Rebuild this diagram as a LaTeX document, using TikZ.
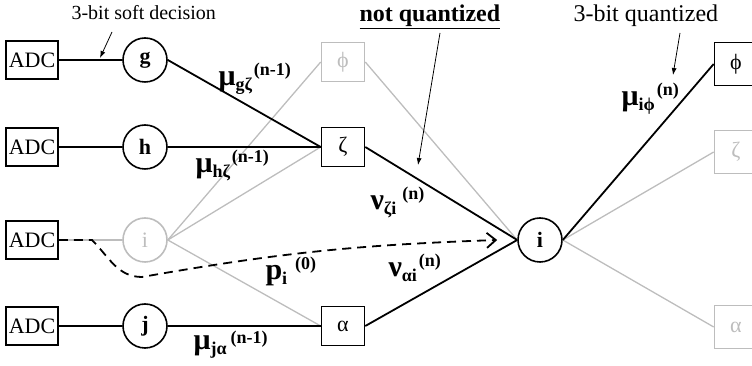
\documentclass[tikz,border=0pt]{standalone}
\usepackage{fontspec}
\setmainfont{Liberation Serif}
\usetikzlibrary{arrows.meta}
\definecolor{lite}{gray}{0.74}
% message label: symbol, subscript, superscript
\newcommand{\msg}[3]{{\fontsize{30}{30}\selectfont\bfseries #1}{\fontsize{18}{18}\selectfont\bfseries\raisebox{-5pt}{#2}\hspace{2pt}\raisebox{10pt}{#3}}}
\begin{document}
\begin{tikzpicture}[x=1pt,y=1pt,
    box/.style={draw,line width=1.6pt,minimum width=43pt,minimum height=39pt,inner sep=0pt,font=\fontsize{22}{22}\selectfont},
    adc/.style={box,minimum width=52pt,minimum height=38pt},
    var/.style={draw,circle,line width=1.6pt,minimum size=44pt,inner sep=0pt,font=\fontsize{22}{22}\selectfont\bfseries},
    faint/.style={draw=lite,text=lite},
    edge/.style={line width=1.8pt},
    fedge/.style={line width=1.3pt,lite},
    note/.style={font=\fontsize{20}{20}\selectfont,anchor=base west},
    pointer/.style={line width=0.8pt,-{Latex[length=7pt,width=5pt]}}]
  \useasboundingbox (0,0) rectangle (752,366);
  \clip (0,0) rectangle (752,366);
  % channel side
  \foreach \y/\n in {306/1,219/2,126/3,40/4}
    \node[adc] (adc\n) at (32,\y) {ADC};
  \node[var] (g) at (145,306) {g};
  \node[var] (h) at (145,219) {h};
  \node[var,faint] (vi) at (145,126) {\mdseries i};
  \node[var] (j) at (145,40) {j};
  % check nodes
  \node[box,faint] (phiL) at (343,304) {ϕ};
  \node[box] (zetaL) at (343,219) {ζ};
  \node[box] (alphaL) at (343,40) {α};
  \node[var] (ci) at (540,126) {i};
  \node[box,minimum height=43pt] (phiR) at (736,302) {ϕ};
  \node[box,faint,minimum height=43pt] (zetaR) at (736,214) {ζ};
  \node[box,faint,minimum height=43pt] (alphaR) at (736,39) {α};
  % gray edges
  \draw[fedge] (adc3) -- (vi);
  \draw[fedge] (vi.east) -- (phiL.west);
  \draw[fedge] (vi.east) -- (zetaL.west);
  \draw[fedge] (vi.east) -- (alphaL.west);
  \draw[fedge] (phiL.east) -- (ci.west);
  \draw[fedge] (ci.east) -- (zetaR.west);
  \draw[fedge] (ci.east) -- (alphaR.west);
  % black edges
  \draw[edge] (adc1) -- (g);
  \draw[edge] (adc2) -- (h);
  \draw[edge] (adc4) -- (j);
  \draw[edge] (g.east) -- (zetaL.west);
  \draw[edge] (h.east) -- (zetaL.west);
  \draw[edge] (j.east) -- (alphaL.west);
  \draw[edge] (zetaL.east) -- (ci.west);
  \draw[edge] (alphaL.east) -- (ci.west);
  \draw[edge] (ci.east) -- (phiR.west);
  % intrinsic information
  \draw[edge,dash pattern=on 9pt off 6pt,-{Straight Barb[length=9pt,width=15pt]}]
    (adc3.east) -- (92,126) to[out=-45,in=180] (142,89) to[out=10,in=182] ([xshift=-20pt]ci.west);
  % labels
  \node[anchor=base west] (lgz) at (215,280) {\msg{μ}{gζ}{(n-1)}};
  \node[anchor=base west] (lhz) at (192,193) {\msg{μ}{hζ}{(n-1)}};
  \node[anchor=base west] (lzi) at (367,156) {\msg{ν}{ζi}{\hspace{4pt}(n)}};
  \node[anchor=base west] (lai) at (385,89) {\msg{ν}{αi}{(n)}};
  \node[anchor=base west] (lp) at (262,86) {\msg{p}{i}{\hspace{6pt}(0)}};
  \node[anchor=base west] (lja) at (190,16) {\msg{μ}{jα}{\hspace{2pt}\raisebox{-4pt}{(n-1)}}};
  \node[anchor=base west] (lip) at (618,260) {\msg{μ}{iϕ}{(n)}};
  % notes
  \node[note] (soft) at (68,346) {3-bit soft decision};
  \node[note,font=\fontsize{24}{24}\selectfont\bfseries] (nq) at (356,344) {\underline{not quantized}};
  \node[note,font=\fontsize{24}{24}\selectfont] (q3) at (570,344) {3-bit quantized};
  \coordinate (softtip) at (100,308);
  \coordinate (nqtip) at (418,201);
  \coordinate (q3tip) at (673,291);
  \draw[pointer] (112,334) -- (softtip);
  \draw[pointer] (440,333) -- (nqtip);
  \draw[pointer] (680,333) -- (q3tip);
\end{tikzpicture}
\end{document}
